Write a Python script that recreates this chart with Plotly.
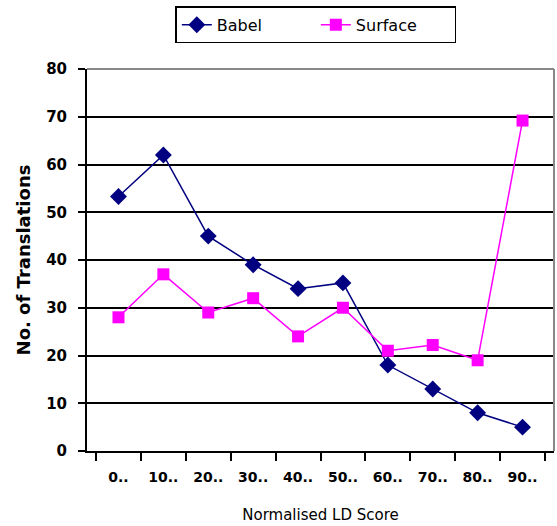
import plotly.graph_objects as go

categories = ["0..", "10..", "20..", "30..", "40..", "50..", "60..", "70..", "80..", "90.."]
babel = [53.3, 62, 45, 39, 34, 35.2, 18, 13, 8, 5]
surface = [28, 37, 29, 32, 24, 30, 21, 22.2, 19, 69.2]
y_ticks = [0, 10, 20, 30, 40, 50, 60, 70, 80]

fig = go.Figure()
fig.add_trace(go.Scatter(x=categories, y=babel, name="Babel", mode="lines+markers",
                         line=dict(color="#000080", width=1.5),
                         marker=dict(symbol="diamond", size=13, color="#000080")))
fig.add_trace(go.Scatter(x=categories, y=surface, name="Surface", mode="lines+markers",
                         line=dict(color="#FF00FF", width=1.5),
                         marker=dict(symbol="square", size=12, color="#FF00FF")))

fig.update_layout(
    width=557, height=526,
    margin=dict(l=87, r=3, t=69, b=75),
    plot_bgcolor="white", paper_bgcolor="white",
    font=dict(family="DejaVu Sans, Verdana, sans-serif", color="black", size=14),
    showlegend=True,
    legend=dict(orientation="h", x=0.49, xanchor="center", y=0.988, yanchor="top",
                yref="container", bordercolor="black", borderwidth=1.5,
                font=dict(size=16, family="DejaVu Sans, sans-serif"),
                entrywidth=94, entrywidthmode="pixels"),
    xaxis=dict(type="category", tickson="boundaries", ticks="outside", ticklen=8,
               tickcolor="black", tickwidth=2, showline=True, linecolor="black", linewidth=2,
               showgrid=False, ticklabelstandoff=12,
               tickfont=dict(size=14, family="DejaVu Sans, sans-serif", weight="bold"),
               title=dict(text="Normalised LD Score", standoff=26,
                          font=dict(size=15, family="DejaVu Sans, sans-serif"))),
    yaxis=dict(range=[0, 80], tickvals=y_ticks, ticks="outside", ticklen=7,
               tickcolor="black", tickwidth=2, showline=True, linecolor="black", linewidth=2,
               showgrid=True, gridcolor="black", gridwidth=1.5, zeroline=False,
               ticklabelstandoff=8,
               tickfont=dict(size=15, family="DejaVu Sans, sans-serif", weight="bold"),
               title=dict(text="<b>No. of Translations</b>", standoff=11,
                          font=dict(size=18, family="DejaVu Sans, sans-serif"))),
)
fig.add_shape(type="line", xref="paper", yref="paper", x0=1, x1=1, y0=0, y1=1,
              line=dict(color="#888888", width=2))
fig.add_shape(type="line", xref="paper", yref="paper", x0=0, x1=1, y0=1, y1=1,
              line=dict(color="#888888", width=2))
fig.write_html("out.html")
